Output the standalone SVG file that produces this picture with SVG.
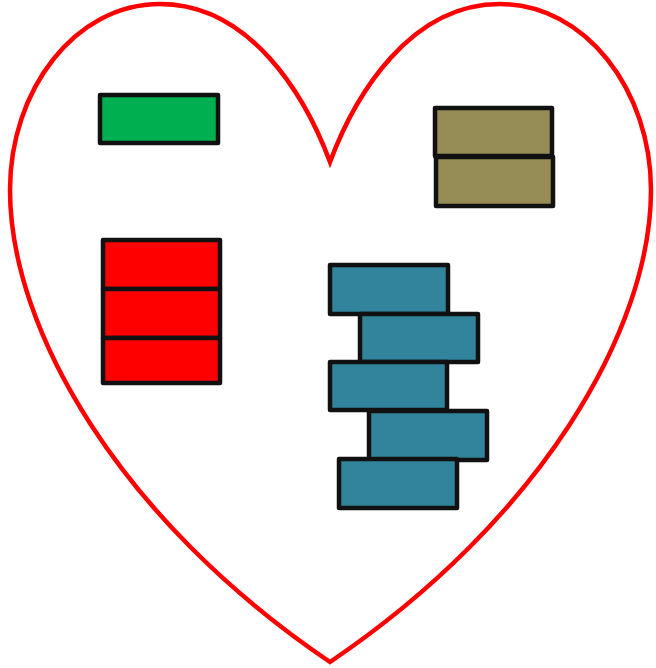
<svg xmlns="http://www.w3.org/2000/svg" width="656" height="668" viewBox="0 0 656 668">
<style>
.blk{stroke:#111111;stroke-width:4.5;stroke-linejoin:round}
.g{fill:#00B050}.o{fill:#968C55}.r{fill:#FF0000}.t{fill:#31849B}
</style>
<rect width="656" height="668" fill="#ffffff"/>
<g id="heart">
<path d="M330,162 C305,95 250,4 160,4 C75,4 10,90 10,190 C10,330 120,520 330,662 C540,520 651,330 651,190 C651,90 585,4 500,4 C410,4 355,95 330,162 Z" fill="#ffffff" stroke="#FF0000" stroke-width="4.5" stroke-linejoin="miter"/>
</g>
<g id="green">
<rect class="blk g" x="100" y="95" width="118" height="48"/>
</g>
<g id="olive">
<rect class="blk o" x="435" y="108" width="117" height="48"/>
<rect class="blk o" x="436" y="157" width="117" height="49"/>
</g>
<g id="red">
<rect class="blk r" x="103" y="240" width="117" height="49"/>
<rect class="blk r" x="103" y="289" width="117" height="49"/>
<rect class="blk r" x="103" y="338" width="117" height="45"/>
</g>
<g id="teal">
<rect class="blk t" x="330" y="265" width="118" height="49"/>
<rect class="blk t" x="360" y="314" width="118" height="48"/>
<rect class="blk t" x="330" y="362" width="117" height="48"/>
<rect class="blk t" x="369" y="411" width="118" height="49"/>
<rect class="blk t" x="339" y="459" width="118" height="49"/>
</g>
</svg>
